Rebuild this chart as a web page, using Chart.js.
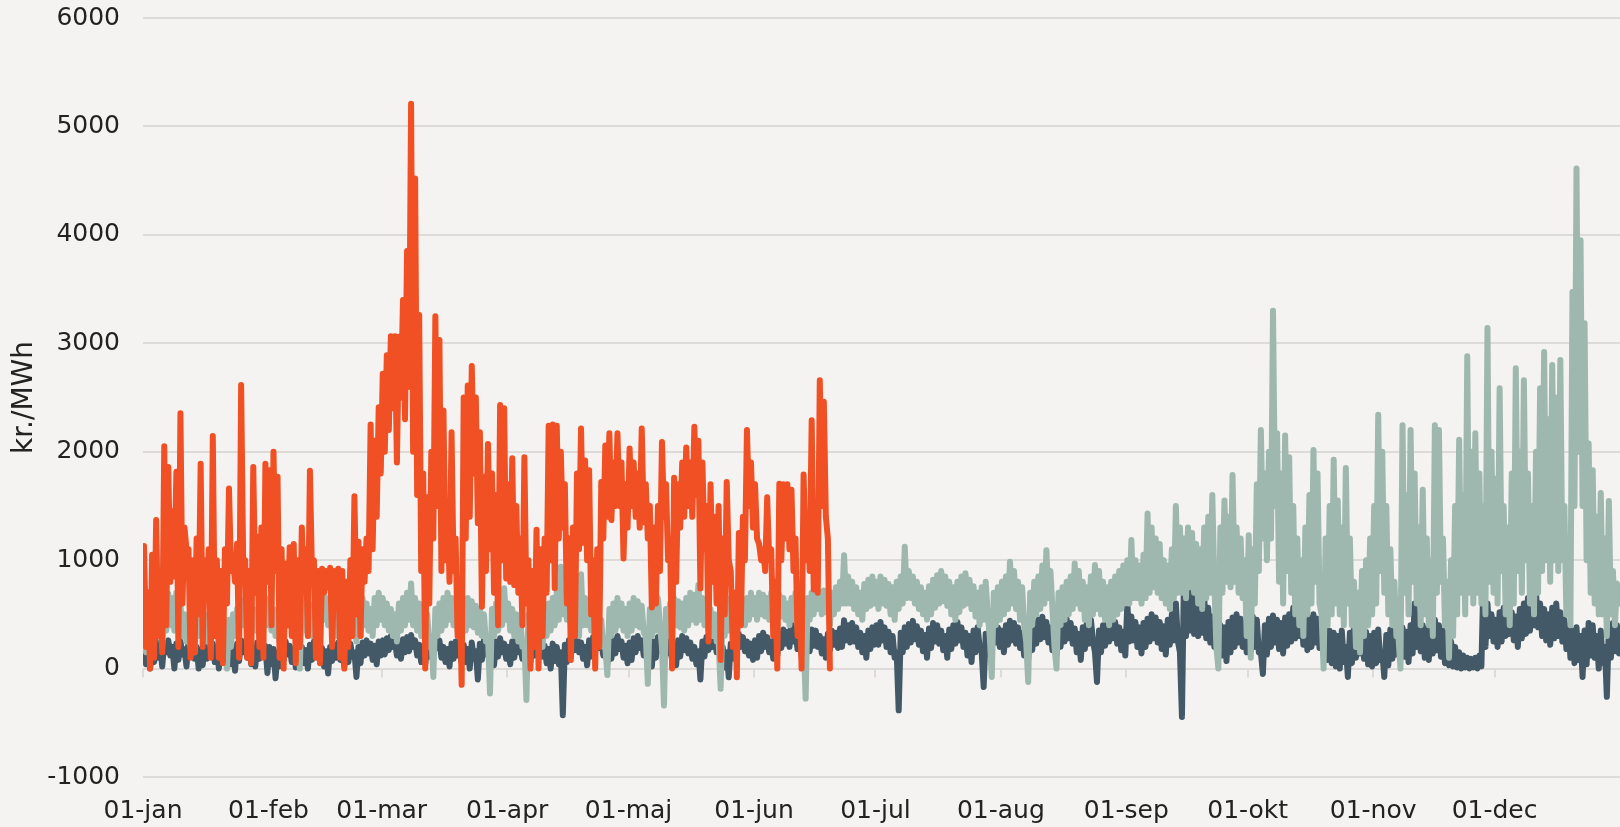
<!DOCTYPE html>
<html lang="da">
<head>
<meta charset="utf-8">
<title>Elpris kr./MWh</title>
<script src="https://cdn.jsdelivr.net/npm/chart.js@4.4.1/dist/chart.umd.min.js"></script>
<style>
  html, body { margin: 0; padding: 0; background: #f4f3f1; }
  #wrap { width: 1620px; height: 827px; }
</style>
</head>
<body>
<div id="wrap"><canvas id="priceChart" width="1620" height="827"></canvas></div>
<script>
// Axis setup (day of year for each month start)
const monthStarts = [0, 31, 59, 90, 120, 151, 181, 212, 243, 273, 304, 334];
const monthLabels = ["01-jan", "01-feb", "01-mar", "01-apr", "01-maj", "01-jun",
                     "01-jul", "01-aug", "01-sep", "01-okt", "01-nov", "01-dec"];
const yTicks = [-1000, 0, 1000, 2000, 3000, 4000, 5000, 6000];

// Prices in kr./MWh, two readings per day (daily high, daily low), one row per month
const prices2020 = [
  // jan
  220,40, 260,0, 180,60, 250,100, 210,20, 240,150, 260,120, 200,0, 230,80, 250,130,
  180,20, 260,150, 240,90, 200,0, 170,30, 220,90, 250,120, 230,60, 190,0, 250,140,
  260,110, 240,40, 200,-20, 230,70, 260,150, 250,100, 220,40, 180,20, 240,90, 260,130, 210,-40,
  // feb
  200,40, 180,-90, 150,20, 230,80, 250,130, 210,60, 180,10, 240,110, 200,50, 170,0,
  220,80, 250,140, 230,60, 190,20, 160,-45, 200,70, 220,100, 240,80, 180,20, 210,60,
  230,110, 150,-77, 200,50, 240,120, 260,140, 230,80, 210,40, 250,120,
  // mar
  260,130, 280,170, 300,200, 250,120, 230,90, 270,150, 290,160, 310,200, 260,120, 220,60,
  180,40, 240,110, 300,180, 310,190, 260,100, 200,60, 180,20, 230,90, 250,120, 200,50,
  220,60, 180,0, 240,90, 160,-100, 230,80, 260,130, 220,70, 200,30, 250,110, 280,150, 230,90,
  // apr
  200,40, 250,100, 280,150, 230,90, 180,20, 220,60, 260,120, 290,170, 250,110, 210,50,
  180,0, 230,70, 200,40, 150,-430, 220,60, 260,120, 300,170, 280,150, 240,90, 200,30,
  260,110, 290,160, 310,190, 250,120, 200,40, 230,90, 270,140, 300,180, 250,100, 210,50,
  // maj
  240,80, 280,150, 300,190, 260,120, 220,70, 200,20, 250,100, 290,160, 310,200, 270,140,
  230,80, 200,30, 260,110, 300,170, 280,140, 240,90, 200,40, 160,-100, 250,110, 290,170,
  310,200, 280,150, 240,80, 200,10, 150,-80, 230,90, 280,160, 320,200, 290,160, 250,120, 230,80,
  // jun
  260,100, 300,160, 330,200, 290,150, 250,90, 280,120, 320,190, 360,230, 340,200, 415,250,
  350,180, 300,120, 280,90, 320,160, 360,210, 350,200, 300,140, 270,100, 320,170, 350,220,
  330,190, 370,200, 446,260, 400,240, 420,250, 380,200, 330,150, 300,100, 350,180, 380,220,
  // jul
  400,220, 430,260, 380,200, 340,150, 300,100, 150,-385, 330,150, 380,200, 410,240, 440,270,
  390,220, 350,160, 310,100, 370,190, 420,250, 400,230, 350,170, 300,100, 360,180, 400,230,
  430,260, 380,200, 330,120, 300,60, 350,150, 380,200, 150,-170, 320,130, 370,200, 410,240, 380,200,
  // aug
  350,150, 400,220, 440,260, 420,230, 380,190, 330,120, 300,80, 360,170, 410,230, 450,270,
  477,290, 430,240, 380,170, 340,120, 400,200, 440,250, 460,280, 420,230, 370,150, 320,80,
  380,180, 420,230, 450,260, 150,-123, 350,150, 400,210, 440,250, 470,280, 430,230, 380,170, 340,120,
  // sep
  600,250, 480,260, 430,200, 380,140, 420,200, 460,250, 500,280, 470,240, 430,180, 390,130,
  450,220, 500,260, 600,250, 150,-446, 877,300, 720,350, 680,320, 650,300, 700,330, 660,280,
  560,240, 480,200, 430,150, 400,120, 380,70, 430,150, 470,200, 500,240, 460,200, 420,150,
  // okt
  440,160, 480,200, 450,150, 150,-50, 400,130, 460,200, 490,240, 450,180, 420,140, 470,210,
  500,250, 560,280, 600,300, 480,220, 440,170, 470,200, 500,240, 460,190, 420,130, 380,80,
  350,50, 330,20, 300,0, 350,60, 200,-77, 330,50, 380,100, 420,140, 380,90, 340,40, 300,20,
  // nov
  330,50, 360,80, 150,-77, 310,30, 360,90, 400,130, 430,170, 380,110, 340,60, 400,140,
  600,200, 450,160, 400,100, 370,80, 420,140, 450,170, 400,110, 350,50, 300,30, 250,20,
  200,10, 150,0, 120,10, 100,0, 90,10, 100,0, 120,20, 830,200, 600,300, 500,250,
  // dec
  450,200, 520,250, 560,300, 600,320, 520,260, 480,200, 550,280, 600,320, 650,350, 860,400,
  700,380, 600,300, 550,260, 500,220, 560,280, 600,300, 520,250, 450,180, 400,100, 350,50,
  380,80, 300,-77, 350,40, 420,120, 400,100, 300,0, 350,50, 200,-260, 380,100, 420,160, 400,140
];

const prices2021 = [
  // jan
  350,150, 450,200, 550,250, 500,300, 400,200, 600,350, 690,400, 650,350, 700,450, 600,300,
  500,250, 450,200, 400,150, 550,300, 600,350, 500,250, 450,200, 550,300, 500,250, 400,100,
  300,0, 450,200, 500,300, 550,350, 600,400, 650,450, 600,400, 550,350, 500,300, 600,400, 650,400,
  // feb
  600,350, 550,300, 500,250, 600,350, 650,400, 700,450, 750,450, 785,0, 650,350, 600,300,
  550,300, 600,350, 650,400, 700,450, 650,400, 600,350, 550,300, 600,350, 650,400, 600,350,
  550,300, 500,250, 600,300, 650,400, 600,350, 550,300, 650,400, 700,450,
  // mar
  650,400, 600,350, 550,300, 500,250, 600,350, 650,400, 700,450, 785,400, 650,350, 600,300,
  550,250, 500,200, 300,-77, 550,300, 600,350, 650,400, 700,450, 650,400, 600,350, 550,300,
  600,350, 650,400, 620,380, 580,330, 550,300, 500,250, 300,-230, 550,300, 600,350, 650,400, 740,450,
  // apr
  600,350, 550,300, 500,250, 450,200, 250,-290, 500,250, 550,300, 500,250, 450,200, 550,300,
  600,350, 650,400, 700,450, 940,500, 700,450, 650,400, 600,350, 550,300, 870,400, 650,400,
  600,350, 550,300, 500,250, 450,200, 200,-60, 550,300, 600,350, 650,400, 600,350, 550,300,
  // maj
  600,350, 650,400, 620,380, 580,330, 300,-140, 550,300, 600,350, 650,400, 200,-340, 550,300,
  600,350, 650,400, 620,380, 600,350, 650,400, 700,450, 680,420, 770,450, 650,400, 600,350,
  550,300, 500,250, 250,-185, 550,300, 600,350, 650,450, 700,500, 650,450, 600,400, 650,450, 700,500,
  // jun
  650,450, 700,500, 680,480, 650,450, 700,500, 720,520, 680,480, 650,450, 600,400, 650,450,
  700,500, 680,480, 300,-277, 650,450, 700,500, 750,550, 700,500, 720,520, 650,400, 700,500,
  750,550, 800,600, 1046,600, 850,600, 800,550, 750,500, 700,450, 780,550, 820,580, 850,600,
  // jul
  800,550, 850,600, 820,580, 780,500, 750,450, 800,550, 850,600, 1123,650, 900,650, 850,600,
  800,550, 750,500, 700,450, 760,500, 820,560, 860,600, 900,620, 850,580, 800,500, 750,450,
  800,520, 850,580, 880,600, 820,550, 760,480, 700,400, 750,450, 800,500, 300,-77, 700,400, 750,450,
  // aug
  800,500, 850,550, 985,600, 900,550, 800,450, 750,400, 250,-123, 700,400, 800,500, 850,550,
  950,600, 1092,650, 900,550, 200,0, 700,400, 750,450, 800,500, 850,550, 970,600, 900,550,
  800,450, 750,400, 850,500, 955,550, 900,500, 800,450, 750,400, 800,450, 850,500, 900,550, 950,600,
  // sep
  1000,600, 1185,650, 1000,650, 950,600, 1050,650, 1430,700, 1300,750, 1200,700, 1150,650, 1000,600,
  950,550, 1100,650, 1500,700, 1300,700, 1200,650, 1300,750, 1250,700, 1150,600, 1100,550, 1300,650,
  1400,700, 1600,800, 200,0, 1300,700, 1550,800, 1400,750, 1785,800, 1300,700, 1200,650, 1000,300,
  // okt
  1230,100, 1100,600, 1700,900, 2200,1200, 1800,1000, 2000,1200, 3300,1500, 2170,800, 1800,600, 2150,900,
  1950,700, 1500,500, 1200,400, 1000,300, 1300,500, 1600,600, 2015,800, 1800,600, 500,0, 1200,400,
  1500,500, 1925,600, 1550,500, 1300,400, 1850,600, 1200,400, 800,200, 700,150, 900,300, 1000,400, 1200,500,
  // nov
  1500,600, 2340,900, 2000,700, 1500,500, 1100,400, 800,300, 300,0, 2245,700, 1600,500, 2200,800,
  1800,600, 1300,400, 1650,500, 1200,400, 1000,300, 2245,700, 2200,800, 1200,400, 800,100, 1000,300,
  1500,500, 2110,700, 1600,500, 2880,700, 2000,600, 2170,700, 1800,600, 1500,500, 3140,800, 2000,700,
  // dec
  1750,600, 2585,900, 1500,500, 1300,400, 1800,600, 2770,900, 2000,700, 2660,1000, 1800,600, 1500,500,
  2000,700, 2585,900, 2920,1000, 2300,800, 2800,1000, 2500,900, 2845,1000, 1500,500, 1200,400, 3473,1500,
  4612,2000, 3950,1500, 3184,1000, 2076,700, 1830,600, 1400,500, 1620,500, 1200,300, 1545,500, 900,400, 785,600
];

const prices2022 = [
  // jan
  1130,200, 700,0, 1050,100, 1370,300, 900,150, 2050,400, 1860,800, 1450,850, 1815,200, 2355,600,
  1300,1100, 1100,100, 1000,150, 1200,500, 1890,200, 1000,700, 1100,100, 2145,300, 1000,100, 900,50,
  1100,600, 1660,900, 1000,800, 1150,100, 2615,1000, 1000,100, 900,50, 1860,700, 1215,200, 1300,100, 1890,800,
  // feb
  1830,400, 2000,900, 1770,100, 1100,0, 970,400, 1120,300, 1150,50, 1000,200, 1300,700, 1100,300,
  1825,900, 1000,100, 900,50, 920,700, 900,750, 930,200, 900,700, 920,100, 900,0, 800,200,
  1000,300, 1590,500, 1170,300, 1100,800, 1200,900, 2250,1100, 2100,1400, 2410,1800,
  // mar
  2720,2000, 2890,2200, 3065,2400, 3065,1900, 3060,2500, 3400,2300, 3850,2600, 5210,2000, 4520,1600, 3260,900,
  1800,0, 1580,600, 2000,1200, 3250,1500, 3030,900, 2380,1000, 1500,800, 2180,900, 1200,300, 800,-150,
  2500,1200, 2610,1400, 2790,1800, 2500,1340, 2180,570, 1770,900, 2070,1100, 1800,700, 1600,400, 2430,1000, 2400,830,
  // apr
  1700,800, 1940,770, 1500,700, 1200,400, 1950,600, 1000,0, 900,200, 1280,0, 1100,300, 1200,700,
  2240,1000, 2250,740, 2240,1200, 2000,1300, 1700,600, 1200,80, 1300,300, 1800,1100, 2215,1160, 1920,1000,
  1830,500, 1000,0, 1100,200, 1720,1200, 2058,1400, 2170,1370, 1900,1500, 2170,1500, 1900,1015, 1700,1300,
  // maj
  2030,1500, 1900,1400, 1800,1300, 2215,1350, 1700,1200, 1500,563, 1300,600, 1500,900, 2090,1400, 1700,1000,
  1200,0, 1760,800, 1700,1300, 1900,1400, 2040,1500, 1900,1400, 2230,1600, 2100,740, 1900,1100, 1500,250,
  1700,800, 1400,600, 1500,80, 1200,500, 1720,1000, 900,200, 700,-80, 1250,400, 1400,1000, 2200,1500, 1900,1300,
  // jun
  1700,1200, 1150,1000, 1100,900, 1580,1000, 1100,300, 800,0, 1705,1000, 1700,1200, 1700,1100, 1650,900,
  1200,300, 700,0, 1790,1000, 1400,900, 2290,730, 1400,700, 2658,1500, 2460,1400, 1200,0
];

// Colors
const colors = {
  dark: "#435967",
  sage: "#9eb8af",
  orange: "#f05023",
  grid: "#dddbd8",
  text: "#222222"
};

const STEP_DAYS = 0.5;

// Turn a list of readings into {x: day, y: price} points
function toPoints(values) {
  return values.map((v, i) => ({ x: i * STEP_DAYS + STEP_DAYS / 2, y: v }));
}

function lineDataset(label, values, color) {
  return {
    label: label,
    data: toPoints(values),
    borderColor: color,
    backgroundColor: color,
    borderWidth: 6,
    borderJoinStyle: "round",
    borderCapStyle: "round",
    pointRadius: 0,
    tension: 0,
    fill: false
  };
}

// Small month ticks hanging under the zero line
const zeroTicksPlugin = {
  id: "zeroTicks",
  beforeDatasetsDraw(chart) {
    const { ctx, scales } = chart;
    const y0 = scales.y.getPixelForValue(0);
    ctx.save();
    ctx.strokeStyle = colors.grid;
    ctx.lineWidth = 2;
    monthStarts.forEach(d => {
      const px = Math.round(scales.x.getPixelForValue(d));
      ctx.beginPath();
      ctx.moveTo(px, y0);
      ctx.lineTo(px, y0 + 9);
      ctx.stroke();
    });
    ctx.restore();
  }
};

const fontFamily = "'DejaVu Sans', Verdana, sans-serif";
const tickFont = { family: fontFamily, size: 25 };

// Keep the plot area exactly where the reference puts it
function dropPadding(scale) {
  scale.paddingTop = 0;
  scale.paddingBottom = 0;
  scale.paddingLeft = 0;
  scale.paddingRight = 0;
}

new Chart(document.getElementById("priceChart"), {
  type: "line",
  data: {
    datasets: [
      lineDataset("2022", prices2022, colors.orange),
      lineDataset("2021", prices2021, colors.sage),
      lineDataset("2020", prices2020, colors.dark)
    ]
  },
  options: {
    responsive: false,
    animation: false,
    layout: { padding: { top: 18, right: 0, bottom: 0, left: 0 } },
    plugins: {
      legend: { display: false },
      tooltip: { enabled: false }
    },
    scales: {
      x: {
        type: "linear",
        min: 0,
        max: 365,
        grid: { display: false, drawTicks: false },
        border: { display: false },
        afterBuildTicks: scale => {
          scale.ticks = monthStarts.map(v => ({ value: v }));
        },
        afterFit: scale => {
          scale.height = 50;
          dropPadding(scale);
        },
        ticks: {
          autoSkip: false,
          maxRotation: 0,
          padding: 19,
          color: colors.text,
          font: tickFont,
          callback: (value) => monthLabels[monthStarts.indexOf(value)] || ""
        }
      },
      y: {
        min: -1000,
        max: 6000,
        grid: { color: colors.grid, lineWidth: 2, drawTicks: false },
        border: { display: false },
        afterBuildTicks: scale => {
          scale.ticks = yTicks.map(v => ({ value: v }));
        },
        afterFit: scale => {
          scale.width = 143;
          dropPadding(scale);
        },
        ticks: {
          padding: 23,
          color: colors.text,
          font: tickFont,
          callback: (value) => String(value)
        },
        title: {
          display: true,
          text: "kr./MWh",
          color: colors.text,
          font: { family: fontFamily, size: 28 },
          padding: { top: 8, bottom: 0 }
        }
      }
    }
  },
  plugins: [zeroTicksPlugin]
});
</script>
</body>
</html>
